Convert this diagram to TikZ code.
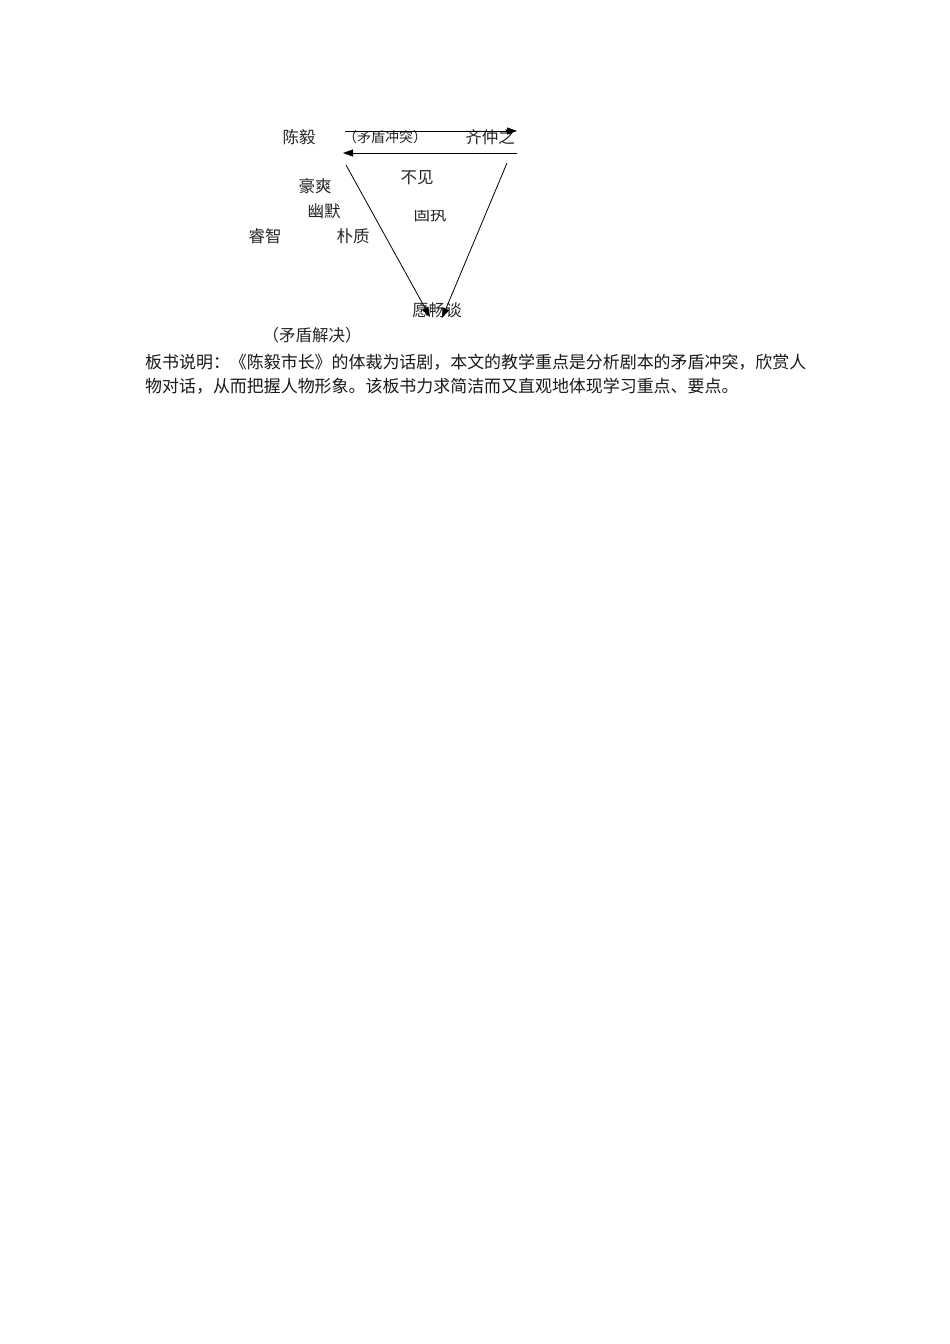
\documentclass[tikz,border=0pt]{standalone}
\usepackage{fontspec}
\setmainfont{Liberation Serif}
\newfontfamily\cjk{Noto Sans CJK SC}
\usetikzlibrary{arrows.meta}
\begin{document}
\begin{tikzpicture}[x=1pt,y=-1pt,
  lab/.style={font=\cjk\fontsize{16.5}{18}\selectfont, inner sep=0pt, text=black!85},
  small/.style={font=\cjk\fontsize{14}{15}\selectfont, inner sep=0pt, text=black!85},
  body/.style={font=\cjk\fontsize{16.95}{18}\selectfont, inner sep=0pt, anchor=west, text=black!90},
  arr/.style={line width=0.8pt, -{Triangle[length=10pt,width=7pt]}}]
\useasboundingbox (0,0) rectangle (950,1344);
\fill[white] (0,0) rectangle (950,1344);
\node[lab] (chen) at (299,137) {陈毅};
\node[small] (mdct) at (385,137) {（矛盾冲突）};
\node[lab] (qi) at (490,137) {齐仲之};
\coordinate (a1s) at (345,131);
\coordinate (a1e) at (517,131);
\coordinate (a2s) at (517,153);
\coordinate (a2e) at (343,153);
\draw[arr] (a1s) -- (a1e);
\draw[arr] (a2s) -- (a2e);
\node[lab] (bujian) at (417,178) {不见};
\node[lab] (haos) at (315,186) {豪爽};
\node[lab] (youmo) at (324,211) {幽默};
\begin{scope}
\clip (400,210) rectangle (460,230);
\node[lab] (guzhi) at (430,214) {固执};
\end{scope}
\node[lab] (ruizhi) at (265,236) {睿智};
\node[lab] (puzhi) at (353,236) {朴质};
\node[lab] (ycht) at (437,310) {愿畅谈};
\coordinate (l1s) at (346,165);
\coordinate (l1e) at (430,317);
\coordinate (l2s) at (507,163);
\coordinate (l2e) at (442,318);
\draw[arr] (l1s) -- (l1e);
\draw[arr] (l2s) -- (l2e);
\node[lab] (mdjj) at (312,335) {（矛盾解决）};
\node[body] (p1) at (145,362) {板书说明：《陈毅市长》的体裁为话剧，本文的教学重点是分析剧本的矛盾冲突，欣赏人};
\node[body] (p2) at (145,386) {物对话，从而把握人物形象。该板书力求简洁而又直观地体现学习重点、要点。};
\end{tikzpicture}
\end{document}
